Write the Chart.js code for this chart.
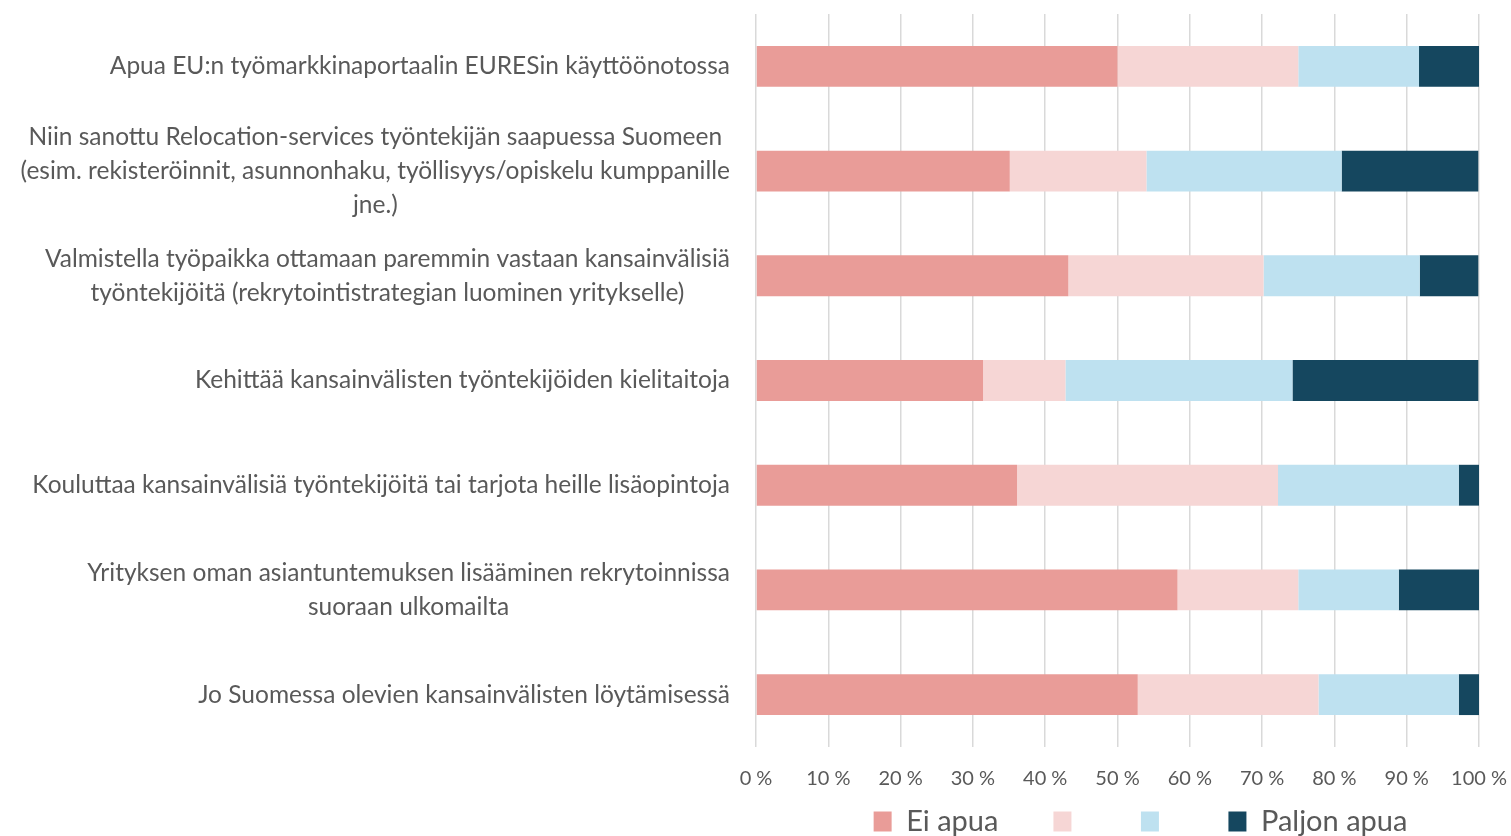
<!DOCTYPE html>
<html>
<head>
<meta charset="utf-8">
<script src="https://cdn.jsdelivr.net/npm/chart.js@4"></script>
<style>
    body { margin: 0; background: #fff; }
    #wrap { width: 1511px; height: 836px; position: relative; }
</style>
</head>
<body>
<div id="wrap"><canvas id="chart"></canvas></div>
<script>
// Data (shares in %)
const categories = [
    'Apua EU:n työmarkkinaportaalin EURESin käyttöönotossa',
    ['Niin sanottu Relocation-services työntekijän saapuessa Suomeen', '(esim. rekisteröinnit, asunnonhaku, työllisyys/opiskelu kumppanille', 'jne.)'],
    ['Valmistella työpaikka ottamaan paremmin vastaan kansainvälisiä', 'työntekijöitä (rekrytointistrategian luominen yritykselle)'],
    'Kehittää kansainvälisten työntekijöiden kielitaitoja',
    'Kouluttaa kansainvälisiä työntekijöitä tai tarjota heille lisäopintoja',
    ['Yrityksen oman asiantuntemuksen lisääminen rekrytoinnissa', 'suoraan ulkomailta'],
    'Jo Suomessa olevien kansainvälisten löytämisessä'
];
const seriesNames = ['Ei apua', '', '', 'Paljon apua'];
const eiApua = [50.0, 35.1, 43.2, 31.4, 36.1, 58.3, 52.8];
const vahanApua = [25.0, 18.9, 27.0, 11.4, 36.1, 16.7, 25.0];
const jonkinApua = [16.7, 27.0, 21.6, 31.4, 25.0, 13.9, 19.4];
const paljonApua = [8.3, 18.9, 8.1, 25.7, 2.8, 11.1, 2.8];
const xTicks = [0, 10, 20, 30, 40, 50, 60, 70, 80, 90, 100];

const colors = ['#E99C98', '#F6D6D5', '#BEE1F0', '#15475F'];
const textColor = '#595959';
const fontFamily = 'Lato, "Open Sans", sans-serif';
const labelFontSize = 24.5;
const labelLineHeight = 34;
const labelGap = 26;

const values = [eiApua, vahanApua, jonkinApua, paljonApua];
const datasets = values.map((data, i) => ({
    label: seriesNames[i],
    data: data,
    backgroundColor: colors[i],
    borderWidth: 0,
    barPercentage: 0.39,
    categoryPercentage: 1.0
}));

// Category labels: block right-aligned next to the axis, lines centred inside the block
const yLabels = {
    id: 'yLabels',
    afterDraw(chart) {
        const ctx = chart.ctx;
        const yScale = chart.scales.y;
        const right = chart.chartArea.left - labelGap;
        ctx.save();
        ctx.font = labelFontSize + 'px ' + fontFamily;
        ctx.fillStyle = textColor;
        ctx.textAlign = 'center';
        ctx.textBaseline = 'middle';
        categories.forEach((label, i) => {
            const lines = Array.isArray(label) ? label : [label];
            const w = Math.max(...lines.map(l => ctx.measureText(l).width));
            const cx = right - w / 2;
            const cy = yScale.getPixelForTick(i);
            lines.forEach((line, j) => {
                ctx.fillText(line, cx, cy + (j - (lines.length - 1) / 2) * labelLineHeight);
            });
        });
        ctx.restore();
    }
};

// Move the legend row into place under the axis labels (bottom kept so the clip box still holds it)
const legendShift = {
    id: 'legendShift',
    afterLayout(chart) {
        const lg = chart.legend;
        lg.top -= 43;
        lg.left += 23; lg.right += 23;
    }
};

new Chart(document.getElementById('chart'), {
    type: 'bar',
    data: { labels: categories, datasets: datasets },
    plugins: [yLabels, legendShift],
    options: {
        indexAxis: 'y',
        responsive: true,
        maintainAspectRatio: false,
        animation: false,
        layout: { padding: { top: 14, right: 0, left: 0, bottom: 0 } },
        plugins: {
            tooltip: { enabled: false },
            legend: {
                position: 'bottom',
                fullSize: false,
                maxHeight: 41,
                labels: {
                    color: textColor,
                    font: { family: fontFamily, size: 29 },
                    boxWidth: 18,
                    boxHeight: 20,
                    padding: 55
                }
            }
        },
        scales: {
            x: {
                stacked: true,
                min: 0,
                max: 100,
                afterBuildTicks: (scale) => { scale.ticks = xTicks.map(v => ({ value: v })); },
                grid: { color: '#D9D9D9', lineWidth: 1.5, drawTicks: true, tickLength: 16, tickColor: 'rgba(0,0,0,0)' },
                border: { display: false },
                ticks: {
                    color: textColor,
                    font: { family: fontFamily, size: 20 },
                    padding: 4,
                    maxRotation: 0,
                    callback: (v) => v + ' %'
                }
            },
            y: {
                stacked: true,
                grid: { display: false },
                border: { display: false },
                afterFit: (scale) => { scale.width = 756; },
                ticks: { display: false }
            }
        }
    }
});
</script>
</body>
</html>
